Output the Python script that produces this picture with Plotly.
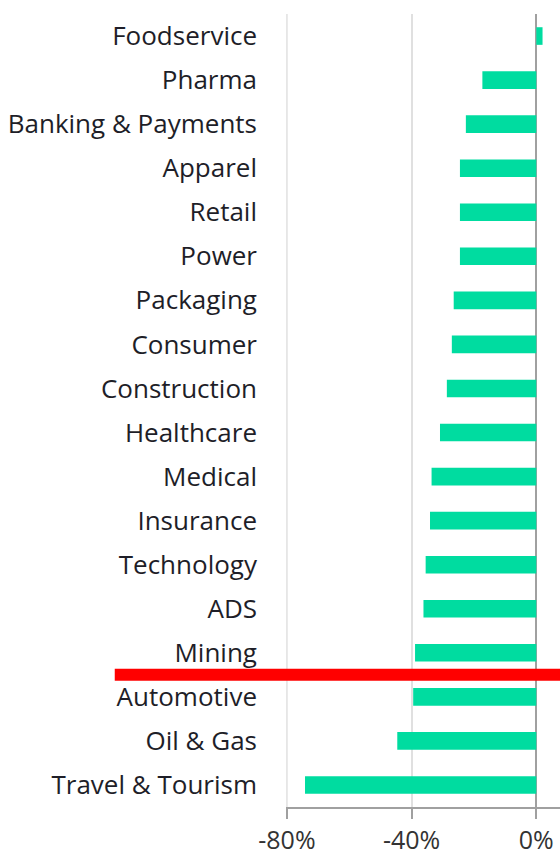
import plotly.graph_objects as go

categories = ["Foodservice", "Pharma", "Banking & Payments", "Apparel", "Retail", "Power",
              "Packaging", "Consumer", "Construction", "Healthcare", "Medical", "Insurance",
              "Technology", "ADS", "Mining", "Automotive", "Oil & Gas", "Travel & Tourism"]
values = [0.02, -0.173, -0.226, -0.245, -0.245, -0.245, -0.265, -0.271, -0.287, -0.309,
          -0.336, -0.341, -0.355, -0.362, -0.389, -0.395, -0.446, -0.742]
tick_vals = [-0.8, -0.4, 0.0]
tick_text = ["-80%", "-40%", "0%"]

fig = go.Figure(go.Bar(
    x=values, y=categories, orientation="h",
    marker=dict(color="#00DCA0", line=dict(width=0)), width=0.4,
))

fig.update_layout(
    width=560, height=856,
    margin=dict(l=286, r=0, t=14, b=49),
    plot_bgcolor="white", paper_bgcolor="white",
    showlegend=False,
    font=dict(family="Open Sans, sans-serif", size=26, color="#1E1E28"),
    shapes=[
        dict(type="line", xref="x", yref="paper", x0=tick_vals[0], x1=tick_vals[0],
             y0=0, y1=1, line=dict(color="#E0E0E0", width=1.5), layer="below"),
        dict(type="line", xref="paper", yref="paper",
             x0=-0.625, x1=1.0, y0=(17.5 - 14.5) / 18, y1=(17.5 - 14.5) / 18,
             line=dict(color="#FF0000", width=12)),
    ],
)
fig.update_xaxes(
    range=[-0.803, 0.076], tickvals=tick_vals, ticktext=tick_text,
    showgrid=True, gridcolor="#E0E0E0", gridwidth=1.5,
    zeroline=True, zerolinecolor="#A0A0A0", zerolinewidth=2,
    showline=True, linecolor="#A0A0A0", linewidth=2,
    ticks="outside", ticklen=10, tickcolor="#A0A0A0", tickwidth=2,
    tickfont=dict(size=25, color="#333333"),
)
fig.update_yaxes(
    autorange="reversed", showgrid=False, ticks="", showline=False,
    ticklabelstandoff=28, tickfont=dict(size=26, color="#1E1E28"),
)
fig.write_html("out.html", config={"displayModeBar": False},
               post_script="document.body.style.margin='0';document.body.style.overflow='hidden';")
